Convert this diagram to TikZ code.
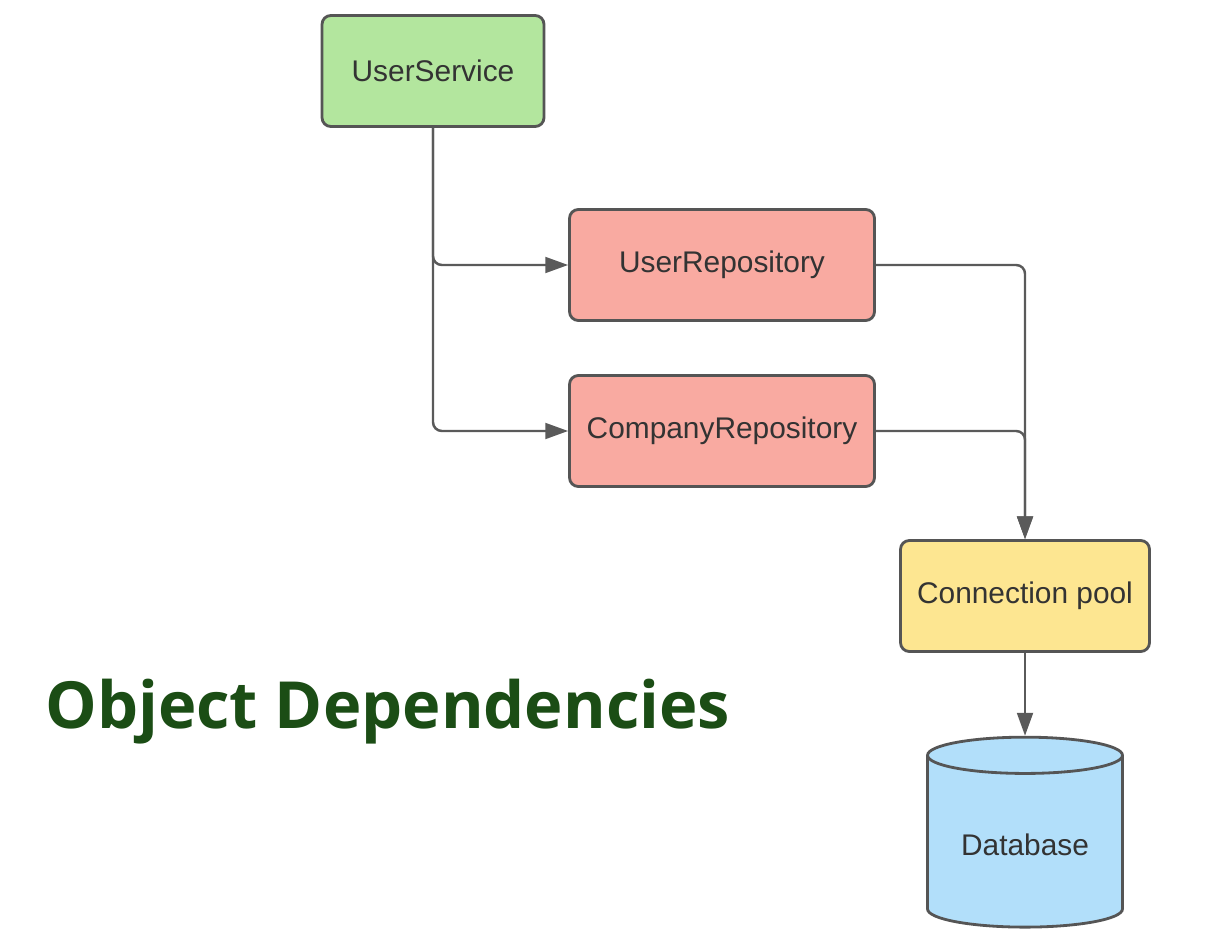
\documentclass[tikz,border=0pt]{standalone}
\usepackage{fontspec}
\setmainfont{Liberation Sans}
\newfontfamily\titlefont{Open Sans}
\usetikzlibrary{shapes.geometric, arrows.meta, positioning}
\definecolor{svcgreen}{HTML}{B3E69E}
\definecolor{repored}{HTML}{F9AAA1}
\definecolor{poolyellow}{HTML}{FDE691}
\definecolor{dbblue}{HTML}{B2DFFA}
\definecolor{boxline}{HTML}{555555}
\definecolor{linegray}{HTML}{5A5A5A}
\definecolor{textgray}{HTML}{333333}
\definecolor{titlegreen}{HTML}{1B4D15}

\begin{document}
\begin{tikzpicture}[
    x=0.02cm, y=-0.02cm,
    box/.style={
        rectangle, draw=boxline, line width=1.6pt,
        rounded corners=5pt, minimum height=2.22cm,
        text=textgray, font=\fontsize{17}{20}\selectfont
    },
    dbbox/.style={
        cylinder, shape border rotate=90, aspect=0.26,
        draw=boxline, line width=1.6pt, fill=dbblue,
        minimum width=3.9cm, minimum height=3.8cm,
        text=textgray, font=\fontsize{17}{20}\selectfont
    },
    arrow/.style={-{Triangle[length=13pt, width=9pt]}, line width=1.4pt, linegray, rounded corners=5pt}
]
    \useasboundingbox[fill=white] (0,0) rectangle (1229,932);

    \node[box, fill=svcgreen, minimum width=4.44cm] (service) at (433,71) {UserService};
    \node[box, fill=repored, minimum width=6.1cm] (userrepo) at (722,265) {UserRepository};
    \node[box, fill=repored, minimum width=6.1cm] (comprepo) at (722,431) {CompanyRepository};
    \node[box, fill=poolyellow, minimum width=4.98cm] (pool) at (1025,596) {Connection pool};
    \node[dbbox] (db) at (1025,845) {Database};

    %% Title
    \node[anchor=base west, inner sep=0pt, text=titlegreen, font=\titlefont\bfseries\fontsize{37}{40}\selectfont] (title) at (45,728) {Object Dependencies};

    \draw[arrow] (service.south) |- (comprepo.west);
    \draw[arrow] (service.south) |- (userrepo.west);
    \draw[arrow] (userrepo.east) -| (pool.north);
    \draw[arrow] (comprepo.east) -| (pool.north);
    \draw[arrow] (pool.south) -- (db.top);
\end{tikzpicture}
\end{document}
